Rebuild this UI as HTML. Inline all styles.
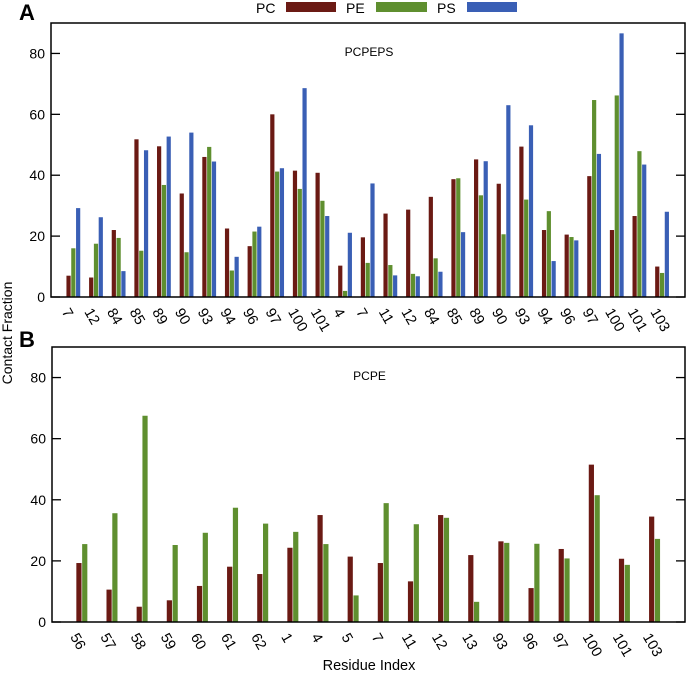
<!DOCTYPE html>
<html><head><meta charset="utf-8"><style>
body{margin:0;background:#fff;}
svg{display:block;font-family:"Liberation Sans",sans-serif;}
</style></head><body>
<svg id="chart" width="688" height="677"></svg>
<script>
const catsA=["7","12","84","85","89","90","93","94","96","97","100","101","4","7","11","12","84","85","89","90","93","94","96","97","100","101","103"];
const pcA=[7,6.4,22,51.8,49.5,34,46,22.5,16.7,60,41.5,40.8,10.3,19.6,27.4,28.7,32.9,38.7,45.2,37.2,49.4,22,20.5,39.7,22,26.6,10];
const peA=[16,17.5,19.4,15.2,36.8,14.7,49.3,8.7,21.5,41.2,35.5,31.6,2,11.2,10.5,7.6,12.7,39,33.4,20.6,32,28.2,19.7,64.7,66.2,47.9,7.9];
const psA=[29.2,26.2,8.5,48.2,52.7,54,44.5,13.2,23.1,42.3,68.6,26.6,21.1,37.3,7.1,6.8,8.3,21.3,44.6,63,56.4,11.8,18.6,47,86.6,43.5,28];
const catsB=["56","57","58","59","60","61","62","1","4","5","7","11","12","13","93","96","97","100","101","103"];
const pcB=[19.3,10.6,5,7.1,11.8,18.1,15.7,24.3,35,21.4,19.3,13.3,35,21.9,26.4,11.1,23.9,51.5,20.7,34.5];
const peB=[25.5,35.6,67.5,25.2,29.2,37.4,32.2,29.5,25.5,8.7,38.9,32,34.1,6.6,25.9,25.6,20.8,41.5,18.7,27.2];
const yTicks=[0,20,40,60,80];
const COL={PC:"#6b1a14",PE:"#5f8f2f",PS:"#3a5fb5"};
const svg=document.getElementById('chart');
const NS="http://www.w3.org/2000/svg";
function mk(t,a,p){const e=document.createElementNS(NS,t);for(const k in a)e.setAttribute(k,a[k]);(p||svg).appendChild(e);return e;}

function panel(id,x0,x1,yT,yB,cats,series,barW,title,titleY){
  const g=mk('g',{});
  
  
  const ymax=90;
  const ys=v=>yB-(v/ymax)*(yB-yT);
  const step=(x1-x0)/(cats.length+1);
  const xs=i=>x0+step*(i+1);
  const n=series.length;
  series.forEach((s,si)=>{
    s.vals.forEach((v,i)=>{
      const bx=xs(i)-n*barW/2+si*barW;
      const r=mk('rect',{x:bx,y:ys(v),width:barW-0.6,height:yB-ys(v),fill:s.color},g);
      
      
    });
  });
  const fr=mk('rect',{x:x0,y:yT,width:x1-x0,height:yB-yT,fill:'none',stroke:'#000','stroke-width':1.5},g);
  
  
  yTicks.forEach(t=>{
    mk('line',{x1:x0,x2:x0+9,y1:ys(t),y2:ys(t),stroke:'#000','stroke-width':1.3},g);
    mk('line',{x1:x1-9,x2:x1,y1:ys(t),y2:ys(t),stroke:'#000','stroke-width':1.3},g);
    const tl=mk('text',{x:x0-6,y:ys(t)+5,'text-anchor':'end','font-size':14},g);
    tl.textContent=t;
    
    
  });
  cats.forEach((c,i)=>{
    const tx=xs(i)-4, ty=yB+10;
    const tl=mk('text',{x:tx,y:ty,'font-size':14.5,transform:`rotate(60 ${tx} ${ty})`,'dominant-baseline':'hanging'},g);
    tl.textContent=c;
    
    
  });
  const tt=mk('text',{x:(x0+x1)/2+1,y:titleY,'text-anchor':'middle','font-size':12},g);
  tt.textContent=title;
  
  
}
panel('a',51,685,23,297,catsA,[{name:'PC',vals:pcA,color:COL.PC},{name:'PE',vals:peA,color:COL.PE},{name:'PS',vals:psA,color:COL.PS}],4.8,'PCPEPS',56);
panel('b',52,685,347,622,catsB,[{name:'PC',vals:pcB,color:COL.PC},{name:'PE',vals:peB,color:COL.PE}],5.8,'PCPE',380);
</script>
<svg width="688" height="677" style="position:absolute;left:0;top:0;font-family:'Liberation Sans',sans-serif">
  <text x="19" y="20" font-size="22" font-weight="bold">A</text>
  <text x="19" y="347" font-size="22" font-weight="bold">B</text>
  <g>
    <text x="256" y="13" font-size="14">PC</text>
    <rect x="286" y="2" width="50" height="10" fill="#6b1a14"/>
    <text x="346" y="13" font-size="14">PE</text>
    <rect x="376" y="2" width="51" height="10" fill="#5f8f2f"/>
    <text x="437" y="13" font-size="14">PS</text>
    <rect x="467" y="2" width="50" height="10" fill="#3a5fb5"/>
  </g>
  <text x="12" y="333" font-size="14" text-anchor="middle" transform="rotate(-90 12 333)">Contact Fraction</text>
  <text x="369" y="670" font-size="14.5" text-anchor="middle">Residue Index</text>
</svg>
</body></html>
